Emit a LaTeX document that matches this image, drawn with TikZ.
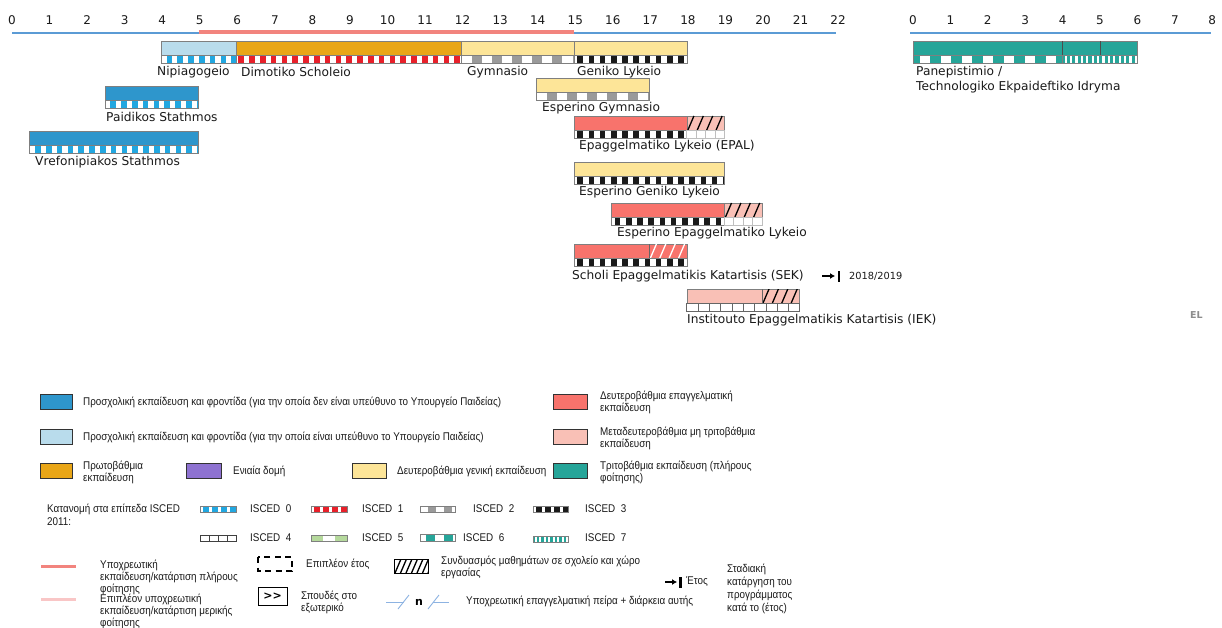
\documentclass[tikz,border=0pt]{standalone}
\usepackage{fontspec}
\setmainfont{DejaVu Sans}
\newfontfamily\lgfont[FakeStretch=0.88]{Liberation Sans}
\usetikzlibrary{arrows.meta}
\definecolor{txt}{HTML}{1A1A1A}
\definecolor{bordc}{HTML}{7F7F7F}
\definecolor{cblue}{HTML}{2E96CC}
\definecolor{lblue}{HTML}{B9DCEC}
\definecolor{corange}{HTML}{E9A617}
\definecolor{cpurple}{HTML}{8E72D1}
\definecolor{cyellow}{HTML}{FDE598}
\definecolor{cred}{HTML}{F8736C}
\definecolor{cpink}{HTML}{F9C0B6}
\definecolor{cteal}{HTML}{26A599}
\definecolor{isz}{HTML}{22A7E0}
\definecolor{ison}{HTML}{E8202A}
\definecolor{istw}{HTML}{9A9A9A}
\definecolor{isth}{HTML}{1A1A1A}
\definecolor{isfi}{HTML}{B5D99C}
\definecolor{axisblue}{HTML}{5B9BD5}
\definecolor{compred}{HTML}{F2847E}
\definecolor{comppink}{HTML}{F9C6C6}
\definecolor{nblue}{HTML}{8DB3E2}
% colour block
\newcommand{\cbar}[4]{\fill[#4] (#1,#3) rectangle (#2,#3+14); \draw[bord] (#1,#3) rectangle (#2,#3+14);}
% patterned strip: x1 x2 ytop h period duty offset colour base
\newcommand{\strp}[9]{%
  \begin{scope}
  \clip (#1,#3) rectangle (#2,#3+#4);
  \fill[#9] (#1,#3) rectangle (#2,#3+#4);
  \pgfmathtruncatemacro\nn{(#2-#1)/#5+2}
  \foreach \k in {0,...,\nn}{\fill[#8] ({#1+#7+\k*#5},#3) rectangle ++(#6,#4);}
  \end{scope}
  \draw[bord] (#1,#3) rectangle (#2,#3+#4);}
% grid strip: x1 x2 ytop h period colour
\newcommand{\gstrp}[6]{%
  \begin{scope}
  \clip (#1,#3) rectangle (#2,#3+#4);
  \fill[white] (#1,#3) rectangle (#2,#3+#4);
  \pgfmathtruncatemacro\nn{(#2-#1)/#5+2}
  \foreach \k in {1,...,\nn}{\draw[#6,line width=0.9pt] ({#1+\k*#5},#3) -- ++(0,#4);}
  \end{scope}
  \draw[#6,line width=0.9pt] (#1,#3) rectangle (#2,#3+#4);}
% hatch: x1 x2 ytop h colour spacing
\newcommand{\hatchp}[6]{%
  \begin{scope}
  \clip (#1,#3) rectangle (#2,#3+#4);
  \pgfmathtruncatemacro\nn{(#2-#1)/#6+2}
  \foreach \k in {0,...,\nn}{\draw[#5,line width=1.3pt] ({#1+1+\k*#6},#3+#4) -- ++(6,-#4);}
  \end{scope}}
\begin{document}
\begin{tikzpicture}[x=1pt,y=-1pt,
  lbl/.style={anchor=west,inner sep=0pt,font=\fontsize{12.2}{15}\selectfont,text=txt},
  axn/.style={anchor=center,inner sep=0pt,font=\fontsize{12}{14}\selectfont,text=txt},
  lg/.style={anchor=west,inner sep=0pt,font=\lgfont\fontsize{11.2}{12.6}\selectfont,align=left,text=txt},
  bord/.style={draw=bordc,line width=0.8pt},
  sw/.style={draw=black!80,line width=0.8pt}]
\useasboundingbox[fill=white] (0,0) rectangle (1222,628);
% axes
\foreach \a in {0,...,22} \node[axn] (t\a) at ({12+37.55*\a},20) {\a};
\foreach \a in {0,...,8} \node[axn] (u\a) at ({913+37.4*\a},20) {\a};
\draw[axisblue,line width=1.3pt] (12,33) -- (836,33);
\draw[compred,line width=4pt] (198.8,31.6) -- (574.3,31.6);
\draw[axisblue,line width=1.3pt] (910,33) -- (1211,33);
% row A
\cbar{161.2}{236.3}{41}{lblue}
\strp{161.2}{236.3}{55}{8}{10.8}{5.6}{5.4}{isz}{white}
\cbar{236.3}{461.6}{41}{corange}
\strp{236.3}{461.6}{55}{8}{10.8}{5.6}{2}{ison}{white}
\cbar{461.6}{574.3}{41}{cyellow}
\strp{461.6}{574.3}{55}{8}{20.2}{10}{10}{istw}{white}
\cbar{574.3}{686.9}{41}{cyellow}
\strp{574.3}{686.9}{55}{8}{11.2}{5.6}{3}{isth}{white}
\node[lbl] (nip) at (157,72) {Nipiagogeio};
\node[lbl] (dim) at (241,72) {Dimotiko Scholeio};
\node[lbl] (gym) at (467,72) {Gymnasio};
\node[lbl] (gen) at (577,72) {Geniko Lykeio};
% tertiary
\cbar{913}{1137.4}{41}{cteal}
\draw[black!70,line width=0.8pt] (1062.6,41) -- (1062.6,55) (1100,41) -- (1100,55);
\strp{913}{1062.6}{55}{8}{21}{10.5}{-4}{cteal}{white}
\strp{1062.6}{1137.4}{55}{8}{5.4}{2.2}{2}{white}{cteal}
\node[lbl,align=left,anchor=north west] (pan) at (916,66) {Panepistimio /\\Technologiko Ekpaideftiko Idryma};
% preschool
\cbar{104.9}{198.8}{86}{cblue}
\strp{104.9}{198.8}{100}{8}{10.8}{5.6}{5.4}{isz}{white}
\node[lbl] (paid) at (106,117) {Paidikos Stathmos};
\cbar{29.8}{198.8}{131}{cblue}
\strp{29.8}{198.8}{145}{8}{10.8}{5.6}{5.4}{isz}{white}
\node[lbl] (vref) at (35,162) {Vrefonipiakos Stathmos};
% Esperino Gymnasio
\cbar{536.7}{649.4}{78}{cyellow}
\strp{536.7}{649.4}{92}{8}{20.2}{10}{10}{istw}{white}
\node[lbl] (esgym) at (542,108) {Esperino Gymnasio};
% EPAL
\cbar{574.3}{686.9}{116}{cred}
\cbar{686.9}{724.5}{116}{cpink}
\hatchp{686.9}{724.5}{116}{14}{black}{9.4}
\strp{574.3}{686.9}{130}{8}{11.2}{5.6}{3}{isth}{white}
\gstrp{686.9}{724.5}{130}{8}{9.4}{black!25}
\node[lbl] (epal) at (579,146) {Epaggelmatiko Lykeio (EPAL)};
% Esperino Geniko Lykeio
\cbar{574.3}{724.5}{162}{cyellow}
\strp{574.3}{724.5}{176}{8}{11.2}{5.6}{3}{isth}{white}
\node[lbl] (esgen) at (579,192) {Esperino Geniko Lykeio};
% Esperino Epaggelmatiko Lykeio
\cbar{611.8}{724.5}{203}{cred}
\cbar{724.5}{762}{203}{cpink}
\hatchp{724.5}{762}{203}{14}{black}{9.4}
\strp{611.8}{724.5}{217}{8}{11.2}{5.6}{3}{isth}{white}
\gstrp{724.5}{762}{217}{8}{9.4}{black!25}
\node[lbl] (esepag) at (617,233) {Esperino Epaggelmatiko Lykeio};
% SEK
\cbar{574.3}{649.4}{244}{cred}
\cbar{649.4}{686.9}{244}{cred}
\hatchp{649.4}{686.9}{244}{14}{white}{9.4}
\draw[black!60,line width=0.8pt] (649.4,244) -- (649.4,258);
\strp{574.3}{686.9}{258}{8}{11.2}{5.6}{3}{isth}{white}
\node[lbl] (sek) at (572,276) {Scholi Epaggelmatikis Katartisis (SEK)};
\coordinate (sekA) at (822,276);
\coordinate (sekB) at (835,276);
\draw[-{Latex[length=5pt,width=6pt]},line width=1.6pt] (sekA) -- (sekB);
\draw[line width=2.2pt] (838.8,271) -- (838.8,281.5);
\node[anchor=west,inner sep=0pt,font=\fontsize{9.8}{12}\selectfont,text=txt] (sekyr) at (849,276) {2018/2019};
% IEK
\cbar{686.9}{762}{289}{cpink}
\cbar{762}{799.6}{289}{cpink}
\hatchp{762}{799.6}{289}{14}{black}{9.4}
\draw[black!60,line width=0.8pt] (762,289) -- (762,303);
\gstrp{686.9}{799.6}{303}{8}{11.3}{black!60}
\node[lbl] (iek) at (687,320) {Institouto Epaggelmatikis Katartisis (IEK)};
% EL
\node[anchor=west,inner sep=0pt,font=\bfseries\fontsize{9.5}{11}\selectfont,text=black!45] (el) at (1190,315) {EL};
% ===== legend =====
\fill[cblue] (40,394) rectangle (72,409); \draw[sw] (40,394) rectangle (72,409);
\node[lg] (l1) at (83,402) {Προσχολική εκπαίδευση και φροντίδα (για την οποία δεν είναι υπεύθυνο το Υπουργείο Παιδείας)};
\fill[lblue] (40,429) rectangle (72,444); \draw[sw] (40,429) rectangle (72,444);
\node[lg] (l2) at (83,437) {Προσχολική εκπαίδευση και φροντίδα (για την οποία είναι υπεύθυνο το Υπουργείο Παιδείας)};
\fill[corange] (40,463) rectangle (72,478); \draw[sw] (40,463) rectangle (72,478);
\node[lg] (l3) at (83,472.5) {Πρωτοβάθμια\\εκπαίδευση};
\fill[cpurple] (186,463) rectangle (221,478); \draw[sw] (186,463) rectangle (221,478);
\node[lg] (l4) at (233,471) {Ενιαία δομή};
\fill[cyellow] (352,463) rectangle (386,478); \draw[sw] (352,463) rectangle (386,478);
\node[lg] (l5) at (397,471) {Δευτεροβάθμια γενική εκπαίδευση};
\fill[cred] (553,394) rectangle (587,409); \draw[sw] (553,394) rectangle (587,409);
\node[lg] (l6) at (600,402.5) {Δευτεροβάθμια επαγγελματική\\εκπαίδευση};
\fill[cpink] (553,429) rectangle (587,444); \draw[sw] (553,429) rectangle (587,444);
\node[lg] (l7) at (600,438.5) {Μεταδευτεροβάθμια μη τριτοβάθμια\\εκπαίδευση};
\fill[cteal] (553,463) rectangle (587,478); \draw[sw] (553,463) rectangle (587,478);
\node[lg] (l8) at (600,472.5) {Τριτοβάθμια εκπαίδευση (πλήρους\\φοίτησης)};
% ISCED
\node[lg] (isc) at (47,515) {Κατανομή στα επίπεδα ISCED\\2011:};
\strp{200}{236}{506}{6}{9}{6}{2.5}{isz}{white}
\node[lg] (i0) at (250,509) {ISCED\ \ 0};
\strp{311}{347}{506}{6}{9}{6}{2.5}{ison}{white}
\node[lg] (i1) at (362,509) {ISCED\ \ 1};
\strp{420}{455}{506}{6}{16}{8}{8}{istw}{white}
\node[lg] (i2) at (473,509) {ISCED\ \ 2};
\strp{533}{568}{506}{6}{9}{6}{2.5}{isth}{white}
\node[lg] (i3) at (585,509) {ISCED\ \ 3};
\gstrp{200}{236}{535}{6}{9}{black!75}
\node[lg] (i4) at (250,538) {ISCED\ \ 4};
\fill[isfi] (311,535) rectangle (347,541); \fill[white] (323,535) rectangle (335,541); \draw[bord] (311,535) rectangle (347,541);
\node[lg] (i5) at (362,538) {ISCED\ \ 5};
\strp{420}{455}{534}{7}{18}{9}{6}{cteal}{white}
\node[lg] (i6) at (463,538) {ISCED\ \ 6};
\strp{533}{568}{536}{6}{4.5}{2}{1.5}{white}{cteal}
\node[lg] (i7) at (585,538) {ISCED\ \ 7};
% lines
\draw[compred,line width=3pt] (41,566) -- (76,566);
\node[lg,font=\lgfont\fontsize{11.2}{12}\selectfont] (lc1) at (100,577) {Υποχρεωτική\\εκπαίδευση/κατάρτιση πλήρους\\φοίτησης};
\draw[comppink,line width=3pt] (41,599) -- (76,599);
\node[lg,font=\lgfont\fontsize{11.2}{12}\selectfont] (lc2) at (100,611.5) {Επιπλέον υποχρεωτική\\εκπαίδευση/κατάρτιση μερικής\\φοίτησης};
\draw[line width=1.4pt,dash pattern=on 6pt off 4.5pt] (258,557) rectangle (292,571);
\node[lg] (dsh) at (306,564) {Επιπλέον έτος};
\hatchp{394}{428}{559}{14}{black}{5.5}
\draw[black,line width=0.9pt] (394,559) rectangle (428,573);
\node[lg] (hat) at (441,567.5) {Συνδυασμός μαθημάτων σε σχολείο και χώρο\\εργασίας};
\node[draw=black,line width=0.9pt,minimum width=29pt,minimum height=18pt,inner sep=0pt,font=\bfseries\fontsize{11}{12}\selectfont] (abr) at (272.5,596) {>{}>};
\node[lg] (abt) at (301,602.5) {Σπουδές στο\\εξωτερικό};
\coordinate (n1) at (386,602); \coordinate (n2) at (404,602);
\coordinate (n3) at (433,602); \coordinate (n4) at (449,602);
\draw[nblue,line width=0.9pt] (n1) -- (n2) (n3) -- (n4);
\draw[nblue,line width=0.9pt] (398,609) -- (409,595) (428,609) -- (439,595);
\node[inner sep=0pt,font=\bfseries\fontsize{11}{12}\selectfont] (nn) at (419,602) {n};
\node[lg] (npr) at (466,601) {Υποχρεωτική επαγγελματική πείρα + διάρκεια αυτής};
\coordinate (ya) at (665,582); \coordinate (yb) at (677,582);
\draw[-{Latex[length=5pt,width=6pt]},line width=1.6pt] (ya) -- (yb);
\draw[line width=2.2pt] (680.5,577) -- (680.5,587.5);
\node[lg] (yr) at (686,582) {Έτος};
\node[lg,font=\lgfont\fontsize{11.2}{12.8}\selectfont] (phs) at (727,589) {Σταδιακή\\κατάργηση του\\προγράμματος\\κατά το (έτος)};
\end{tikzpicture}
\end{document}
